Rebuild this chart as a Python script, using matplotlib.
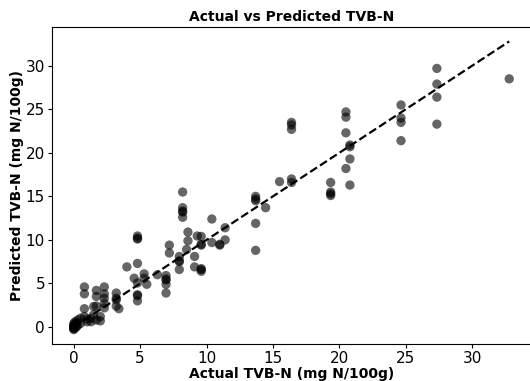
import matplotlib
matplotlib.use('Agg')
import matplotlib.pyplot as plt
import numpy as np

# actual TVB-N value -> predicted values
groups = {
    0.0: [-0.3, -0.2, -0.1, 0.0, 0.1, 0.2, 0.4],
    0.1: [-0.1, 0.3, 0.6],
    0.2: [0.0, 0.5],
    0.3: [0.2, 0.8],
    0.5: [0.4, 1.0],
    0.8: [4.6, 3.8, 2.1, 1.2],
    1.0: [0.6, 0.9],
    1.3: [0.6, 1.0],
    1.5: [2.35, 1.4],
    1.7: [4.2, 3.5, 2.4, 0.8],
    2.0: [1.2, 0.7],
    2.3: [4.6, 3.8, 3.3, 2.7, 2.2],
    3.2: [3.9, 3.3, 3.1, 2.4],
    3.4: [2.1],
    4.0: [6.9],
    4.55: [5.6],
    4.8: [10.45, 10.2, 10.1, 7.3, 5.05, 3.7, 3.6, 3.0],
    5.3: [6.1, 5.6],
    5.5: [4.9],
    6.3: [6.0],
    6.95: [5.9, 5.5, 5.4, 4.9, 3.9],
    7.2: [9.4, 8.5],
    7.95: [8.1, 7.6, 7.5, 6.6],
    8.2: [15.5, 13.7, 13.3, 13.2, 12.6],
    8.5: [8.9],
    8.6: [10.9, 9.9],
    9.1: [8.1, 6.9],
    9.3: [10.45],
    9.6: [10.4, 9.5, 9.4, 6.7, 6.6, 6.4],
    10.4: [12.4, 9.7],
    11.0: [9.5, 9.4],
    11.4: [11.4, 10.0],
    13.7: [15.0, 14.7, 14.5, 11.9, 8.8],
    14.45: [13.7],
    15.5: [16.7],
    16.4: [23.5, 23.2, 22.7, 17.0, 16.6],
    19.35: [16.6, 15.5, 15.3, 15.1],
    20.5: [24.7, 24.1, 22.3, 18.2],
    20.8: [20.9, 20.7, 19.3, 16.3],
    24.65: [25.5, 24.0, 23.5, 21.4],
    27.35: [29.7, 27.9, 26.4, 23.3],
    32.8: [28.5],
}

actual = np.array([a for a, preds in groups.items() for _ in preds])
predicted = np.array([p for preds in groups.values() for p in preds])

fig = plt.figure(figsize=(5.3, 3.81), dpi=100)
ax = fig.add_axes([52 / 530, 37 / 381, 479 / 530, 317 / 381])

ax.scatter(actual, predicted, color='black', alpha=0.6, s=45, edgecolors='none')
lims = [actual.min(), actual.max()]
ax.plot(lims, lims, 'k--', lw=1.6)

ax.set_title('Actual vs Predicted TVB-N', fontsize=10, fontweight='bold', pad=4)
ax.set_xlabel('Actual TVB-N (mg N/100g)', fontsize=10, fontweight='bold', labelpad=1)
ax.set_ylabel('Predicted TVB-N (mg N/100g)', fontsize=10, fontweight='bold', labelpad=1)
ax.set_xticks([0, 5, 10, 15, 20, 25, 30])
ax.set_yticks([0, 5, 10, 15, 20, 25, 30])
ax.tick_params(labelsize=11, pad=2, length=3)

fig.savefig('out.png', dpi=100)
